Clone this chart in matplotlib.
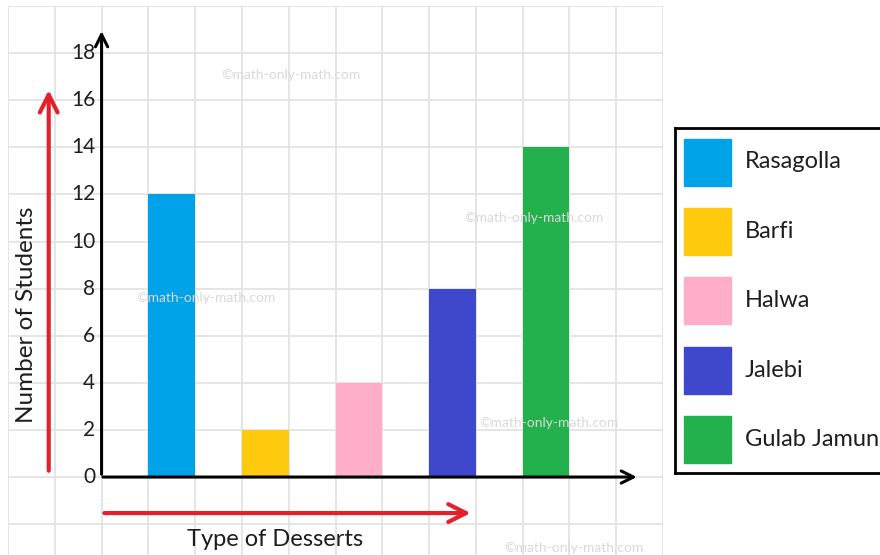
import matplotlib.pyplot as plt
import matplotlib.patches as mpatches
import numpy as np

# data
desserts = ["Rasagolla", "Barfi", "Halwa", "Jalebi", "Gulab Jamun"]
students = [12, 2, 4, 8, 14]
colors = ["#00A2E8", "#FFC90E", "#FFAEC9", "#3F48CC", "#22B14C"]
y_ticks = list(range(0, 19, 2))

GRID = "#E3E3E3"
RED = "#E3202B"
INK = "#1E1E1E"

plt.rcParams["font.family"] = ["Lato", "DejaVu Sans"]

fig = plt.figure(figsize=(8.8, 5.55), dpi=100)

# main axes: one grid cell = 1 x-unit, 2 students per cell in y
ax = fig.add_axes([8 / 880, 0, (663 - 8) / 880, (555 - 6) / 555])
ax.set_xlim(-2, 12)
ax.set_ylim(-3.31, 20)
ax.set_xticks(np.arange(-2, 13))
ax.set_yticks(np.arange(-2, 21, 2))
ax.tick_params(length=0, labelbottom=False, labelleft=False)
ax.grid(True, color=GRID, lw=1.3)
for s in ax.spines.values():
    s.set_visible(False)

pos = np.arange(len(desserts)) * 2 + 1.5
ax.bar(pos, students, width=1.0, color=colors, zorder=3)

# axes lines with arrow heads
ax.annotate("", xy=(0, 19.05), xytext=(0, 0),
            arrowprops=dict(arrowstyle="->", lw=2.2, color="black", mutation_scale=22), zorder=4)
ax.annotate("", xy=(11.5, 0), xytext=(-0.03, 0),
            arrowprops=dict(arrowstyle="->", lw=2.2, color="black", mutation_scale=22), zorder=4)

# red direction arrows
ax.annotate("", xy=(-1.13, 16.55), xytext=(-1.13, 0.15),
            arrowprops=dict(arrowstyle="->", lw=3, color=RED, mutation_scale=32))
ax.annotate("", xy=(7.95, -1.53), xytext=(0.0, -1.53),
            arrowprops=dict(arrowstyle="->", lw=3, color=RED, mutation_scale=32))

for v in y_ticks:
    ax.text(-0.14, v, str(v), ha="right", va="center", fontsize=15, color=INK)

ax.text(3.7, -2.67, "Type of Desserts", ha="center", va="center", fontsize=17, color=INK)
ax.text(-1.6, 6.88, "Number of Students", ha="center", va="center", rotation=90,
        fontsize=17.5, color=INK)

# watermarks
for wx, wy in [(4.05, 17.06), (9.23, 10.99), (2.22, 7.6), (9.55, 2.29), (10.09, -3.01)]:
    ax.text(wx, wy, "©math-only-math.com", ha="center", va="center",
            fontsize=10, color="#D9D9D9", zorder=4)

# legend box (drawn in pixel coords)
lax = fig.add_axes([675 / 880, (555 - 473) / 555, (900 - 675) / 880, (473 - 128) / 555])
lax.set_xlim(675, 900)
lax.set_ylim(473, 128)
lax.set_xticks([])
lax.set_yticks([])
for s in lax.spines.values():
    s.set_linewidth(2)
    s.set_color("black")
for i, (name, c) in enumerate(zip(desserts, colors)):
    yc = 162 + i * 69.5
    lax.add_patch(mpatches.Rectangle((684, yc - 23.5), 47, 47, color=c))
    lax.text(745, yc, name, ha="left", va="center", fontsize=17, color=INK)

fig.savefig("out.png", dpi=100)
